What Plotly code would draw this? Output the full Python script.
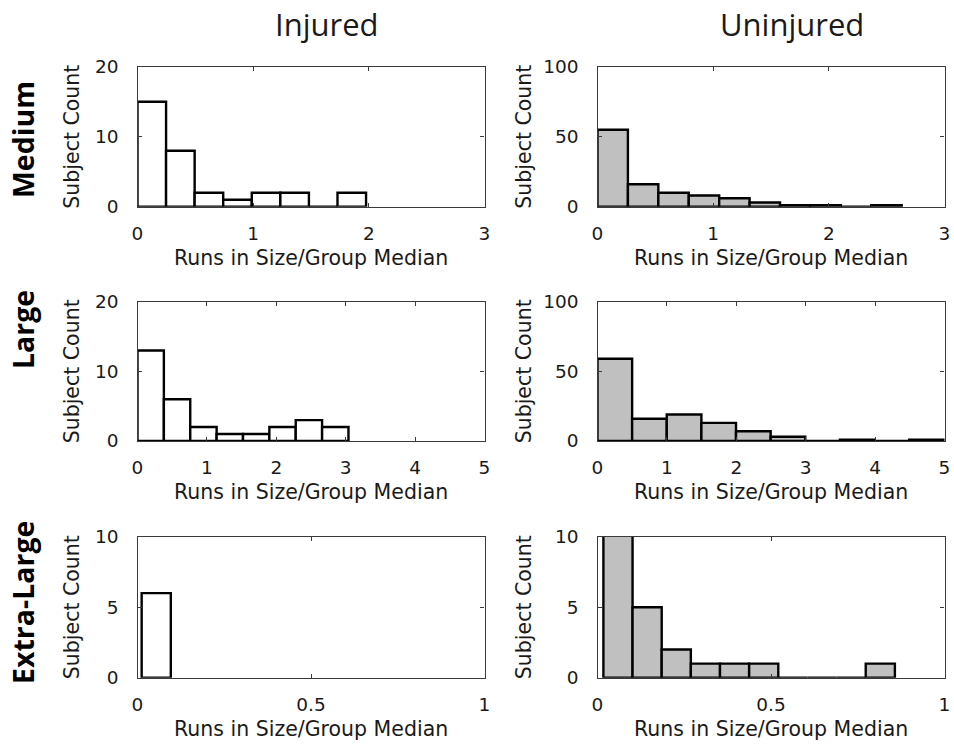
import plotly.graph_objects as go

# ---- Histogram data: bin edges and subject counts per size group ----
med_inj_edges = [0, 0.247, 0.494, 0.741, 0.988, 1.235, 1.482, 1.729, 1.976]
med_inj_counts = [15, 8, 2, 1, 2, 2, 0, 2]

med_uninj_edges = [0, 0.263, 0.526, 0.789, 1.052, 1.315, 1.578, 1.841, 2.104, 2.367, 2.63]
med_uninj_counts = [55, 16, 10, 8, 6, 3, 1, 1, 0, 1]

lrg_inj_edges = [0, 0.38, 0.76, 1.14, 1.52, 1.90, 2.28, 2.66, 3.04]
lrg_inj_counts = [13, 6, 2, 1, 1, 2, 3, 2]

lrg_uninj_edges = [0, 0.499, 0.998, 1.497, 1.996, 2.495, 2.994, 3.493, 3.992, 4.491, 4.99]
lrg_uninj_counts = [59, 16, 19, 13, 7, 3, 0, 1, 0, 1]

xl_inj_edges = [0.012, 0.096]
xl_inj_counts = [6]

xl_uninj_edges = [0.017, 0.101, 0.185, 0.269, 0.353, 0.437, 0.521, 0.605, 0.689, 0.773, 0.857]
xl_uninj_counts = [12, 5, 2, 1, 1, 1, 0, 0, 0, 1]

# Axis ranges and tick values
med_x_ticks = [0, 1, 2, 3]
lrg_x_ticks = [0, 1, 2, 3, 4, 5]
xl_x_ticks = [0, 0.5, 1]
inj_y_ticks = [0, 10, 20]
uninj_y_ticks = [0, 50, 100]
xl_y_ticks = [0, 5, 10]

col_titles = ["Injured", "Uninjured"]
row_titles = ["Medium", "Large", "Extra-Large"]
x_title = "Runs in Size/Group Median"
y_title = "Subject Count"

W, H = 954, 745
INK = "#1a1a1a"
AXIS = "#3a3a3a"
GRAY = "#c0c0c0"
TICK_FONT = dict(family="DejaVu Sans", size=18.5, color=INK)
TITLE_FONT = dict(family="DejaVu Sans", size=20.5, color=INK)

# Plot-area boxes in pixels (left, right) and (top, bottom)
cols_px = [(137.5, 484.5), (597.5, 944.5)]
rows_px = [(66.7, 206.7), (301.7, 441.0), (536.7, 677.7)]

panels = [
    # (row, col, edges, counts, fill, xticks, yticks)
    (0, 0, med_inj_edges, med_inj_counts, "white", med_x_ticks, inj_y_ticks),
    (0, 1, med_uninj_edges, med_uninj_counts, GRAY, med_x_ticks, uninj_y_ticks),
    (1, 0, lrg_inj_edges, lrg_inj_counts, "white", lrg_x_ticks, inj_y_ticks),
    (1, 1, lrg_uninj_edges, lrg_uninj_counts, GRAY, lrg_x_ticks, uninj_y_ticks),
    (2, 0, xl_inj_edges, xl_inj_counts, "white", xl_x_ticks, xl_y_ticks),
    (2, 1, xl_uninj_edges, xl_uninj_counts, GRAY, xl_x_ticks, xl_y_ticks),
]


def fmt(v):
    return f"{v:g}"


fig = go.Figure()
layout = dict(
    width=W, height=H,
    margin=dict(l=0, r=0, t=0, b=0, autoexpand=False),
    paper_bgcolor="white", plot_bgcolor="white",
    showlegend=False, barmode="overlay",
)

for i, (r, c, edges, counts, fill, xt, yt) in enumerate(panels):
    n = i + 1
    xa = "x" if n == 1 else f"x{n}"
    ya = "y" if n == 1 else f"y{n}"
    centers = [(edges[k] + edges[k + 1]) / 2 for k in range(len(counts))]
    widths = [edges[k + 1] - edges[k] for k in range(len(counts))]
    fig.add_trace(go.Bar(
        x=centers, y=counts, width=widths,
        marker=dict(color=fill, line=dict(color="black", width=2.4)),
        xaxis=xa, yaxis=ya, hoverinfo="x+y",
    ))
    x0, x1 = cols_px[c]
    y0, y1 = rows_px[r]
    common = dict(
        showline=True, linecolor=AXIS, linewidth=1.3, mirror="ticks",
        ticks="inside", ticklen=4, tickcolor=AXIS, tickwidth=1.3,
        showgrid=False, zeroline=False, tickfont=TICK_FONT, fixedrange=True,
        automargin=False,
    )
    layout["xaxis" if n == 1 else f"xaxis{n}"] = dict(
        common, domain=[x0 / W, x1 / W], anchor=ya,
        range=[xt[0], xt[-1]], tickvals=xt, ticktext=[fmt(v) for v in xt],
        ticklabelstandoff=10,
    )
    layout["yaxis" if n == 1 else f"yaxis{n}"] = dict(
        common, domain=[1 - y1 / H, 1 - y0 / H], anchor=xa,
        range=[yt[0], yt[-1]], tickvals=yt, ticktext=[fmt(v) for v in yt],
        ticklabelstandoff=14,
    )

annotations = []
# Axis titles for every panel
ytitle_x = [72, 524]
for r, (y0, y1) in enumerate(rows_px):
    for c, (x0, x1) in enumerate(cols_px):
        annotations.append(dict(
            text=x_title, x=(x0 + x1) / 2 / W, y=1 - (y1 + 51) / H,
            xref="paper", yref="paper", xanchor="center", yanchor="middle",
            showarrow=False, font=TITLE_FONT,
        ))
        annotations.append(dict(
            text=y_title, x=ytitle_x[c] / W, y=1 - (y0 + y1) / 2 / H,
            xref="paper", yref="paper", xanchor="center", yanchor="middle",
            textangle=-90, showarrow=False, font=TITLE_FONT,
        ))

# Column headers
col_cx = [326.5, 791.5]
for c, t in enumerate(col_titles):
    annotations.append(dict(
        text=t, x=col_cx[c] / W, y=1 - 24 / H,
        xref="paper", yref="paper", xanchor="center", yanchor="middle",
        showarrow=False, font=dict(family="Open Sans", size=31, color=INK),
    ))

# Row headers
row_cy = [140, 330, 603]
for r, t in enumerate(row_titles):
    annotations.append(dict(
        text=f"<b>{t}</b>", x=23 / W, y=1 - row_cy[r] / H,
        xref="paper", yref="paper", xanchor="center", yanchor="middle",
        textangle=-90, showarrow=False,
        font=dict(family="Open Sans", size=28.5, color="black"),
    ))

layout["annotations"] = annotations
fig.update_layout(**layout)
fig.write_html("out.html")
